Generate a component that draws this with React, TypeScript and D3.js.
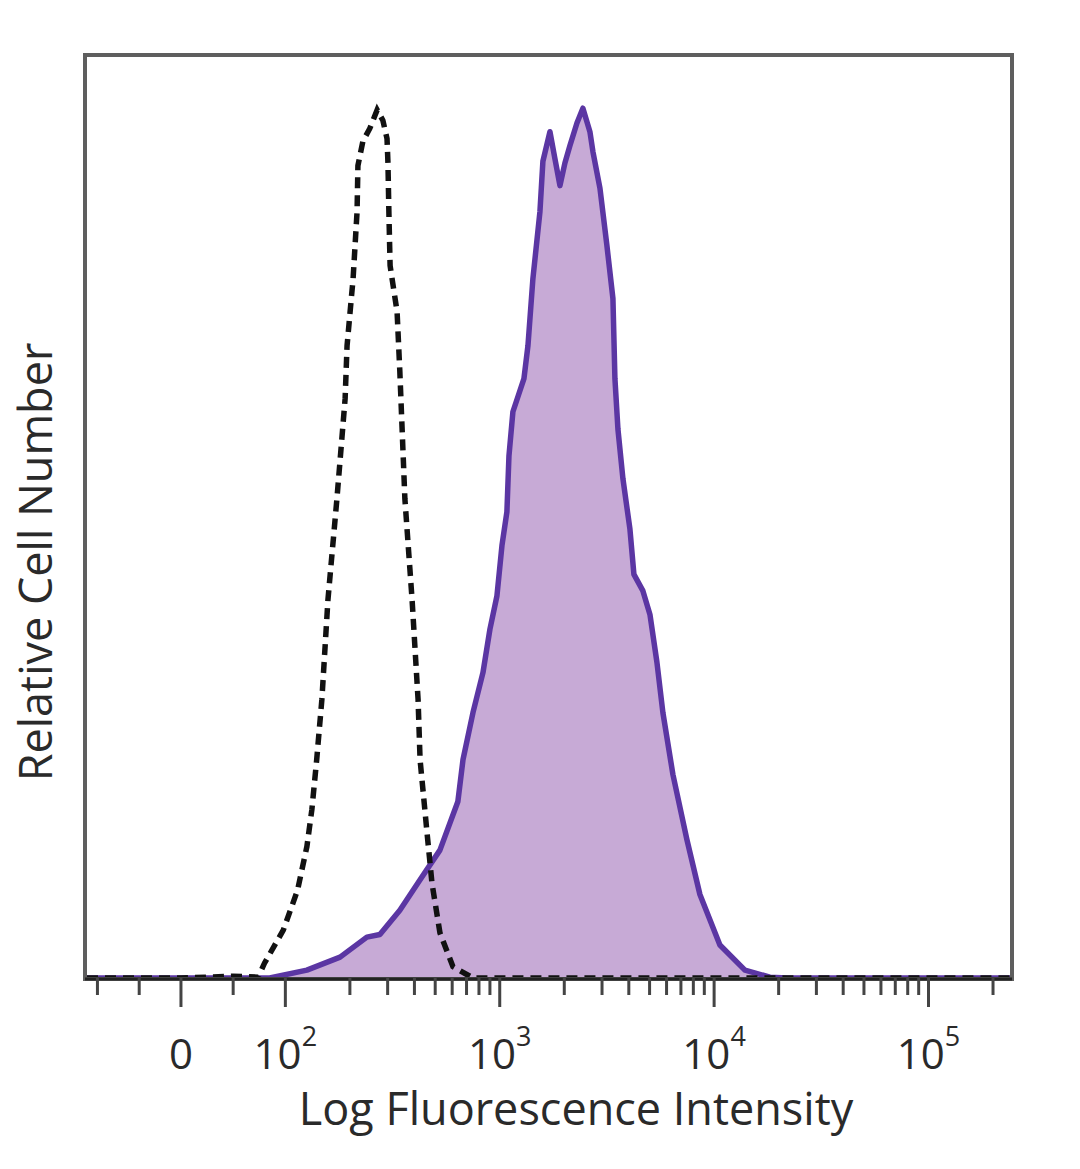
import React from 'react';
import * as d3 from 'd3';

// isotype control (dashed) : [fluorescence, relative count]
const isoIntensity = [-90, 0, 50, 74, 80, 98, 114, 126, 133, 140, 148, 158, 174, 190, 194, 207, 216, 218, 230, 248, 268, 285, 298, 301, 304, 308, 332, 342, 361, 390, 416, 425, 458, 483, 526, 605, 750, 240000];
const isoCount = [0, 0, 0.2, 0.1, 1.7, 5.5, 10.1, 15.1, 19.4, 25.1, 32.0, 43.5, 55.1, 66.6, 72.7, 80.4, 88.1, 93.4, 96.2, 97.7, 99.8, 98.6, 96.5, 93.7, 88.1, 81.9, 76.6, 69.7, 55.1, 43.5, 32.0, 25.1, 16.7, 10.9, 5.2, 1.3, 0, 0];

// stained sample (filled purple)
const stainIntensity = [-90, 85, 126, 180, 240, 276, 342, 425, 526, 638, 674, 750, 835, 900, 970, 1024, 1080, 1104, 1152, 1297, 1354, 1428, 1540, 1590, 1715, 1809, 1909, 2014, 2126, 2292, 2443, 2634, 2721, 2934, 3162, 3373, 3446, 3559, 3755, 4049, 4226, 4655, 5019, 5410, 5770, 6424, 7466, 8586, 10640, 13920, 18210, 22000, 240000];
const stainCount = [0, 0, 0.9, 2.4, 4.7, 5.0, 7.8, 11.3, 14.7, 20.3, 25.1, 30.5, 35.1, 40.1, 43.9, 49.7, 53.6, 60.0, 65.1, 68.9, 72.7, 80.4, 88.1, 93.9, 97.3, 94.2, 91.1, 93.7, 95.7, 98.3, 100, 97.3, 95.0, 90.8, 84.2, 78.1, 68.9, 63.1, 57.4, 51.6, 46.4, 44.5, 41.8, 36.3, 30.5, 23.4, 15.9, 9.6, 3.8, 0.9, 0.1, 0, 0];

const majorTicks = [0, 100, 1000, 10000, 100000];
const majorExp = ['', '2', '3', '4', '5'];
const minorTicks = [-80, -40, 50, 200, 300, 400, 500, 600, 700, 800, 900, 2000, 3000, 4000, 5000, 6000, 7000, 8000, 9000, 20000, 30000, 40000, 50000, 60000, 70000, 80000, 90000, 200000];

const W = 1080;
const H = 1169;
const left = 87;
const right = 1010;
const top = 56;
const bottom = 978;

// biexponential-like transform: linear below 100, log above
const LIN = 0.487;
const bex = (v: number) => (v >= 100 ? Math.log10(v) : 2 - ((100 - v) / 100) * LIN);

const App: React.FC = () => {
  const xLin = d3.scaleLinear().domain([bex(-90), bex(240000)]).range([left, right]);
  const x = (v: number) => xLin(bex(v));
  const y = d3.scaleLinear().domain([0, 106]).range([bottom, top]);

  const stain = stainIntensity.map((v, i) => [v, stainCount[i]] as [number, number]);
  const iso = isoIntensity.map((v, i) => [v, isoCount[i]] as [number, number]);

  const area = d3.area<[number, number]>().x((d) => x(d[0])).y0(y(0)).y1((d) => y(d[1]));
  const line = d3.line<[number, number]>().x((d) => x(d[0])).y((d) => y(d[1]));

  const font = "'Open Sans', 'DejaVu Sans', sans-serif";

  return (
    <svg width={W} height={H} style={{ display: 'block', marginTop: -8, marginLeft: -8 }}>
      <rect x={0} y={0} width={W} height={H} fill="#fff" />
      <defs>
        <clipPath id="plot">
          <rect x={left} y={top} width={right - left} height={bottom - top + 4} />
        </clipPath>
      </defs>
      <g clipPath="url(#plot)">
        <path d={area(stain) || ''} fill="#c7aad6" />
        <path d={line(stain) || ''} fill="none" stroke="#5b36a3" strokeWidth={5.5} strokeLinejoin="round" />
        <path d={line(iso) || ''} fill="none" stroke="#111" strokeWidth={5.5} strokeDasharray="11,7" />
      </g>
      <rect x={left - 2} y={top - 1} width={right - left + 4} height={bottom - top + 2} fill="none" stroke="#5e5e5e" strokeWidth={4} />
      <line x1={left - 2} x2={right + 2} y1={bottom + 1} y2={bottom + 1} stroke="#222" strokeWidth={3} />
      {minorTicks.map((t) => (
        <line key={'m' + t} x1={x(t)} x2={x(t)} y1={bottom} y2={bottom + 17} stroke="#444" strokeWidth={3} />
      ))}
      {majorTicks.map((t) => (
        <line key={'M' + t} x1={x(t)} x2={x(t)} y1={bottom} y2={bottom + 29} stroke="#444" strokeWidth={3} />
      ))}
      {majorTicks.map((t, i) => (
        <text key={'l' + t} x={x(t)} y={1069} textAnchor="middle" fontFamily={font} fontSize={42} fill="#2a2a2a">
          {i === 0 ? '0' : (
            <>
              <tspan>10</tspan>
              <tspan dy={-23} fontSize={27}>{majorExp[i]}</tspan>
            </>
          )}
        </text>
      ))}
      <text x={576} y={1125} textAnchor="middle" fontFamily={font} fontSize={45} fill="#2a2a2a">
        Log Fluorescence Intensity
      </text>
      <text transform={`translate(52, ${562}) rotate(-90)`} textAnchor="middle" fontFamily={font} fontSize={45} fill="#2a2a2a">
        Relative Cell Number
      </text>
    </svg>
  );
};

export default App;
